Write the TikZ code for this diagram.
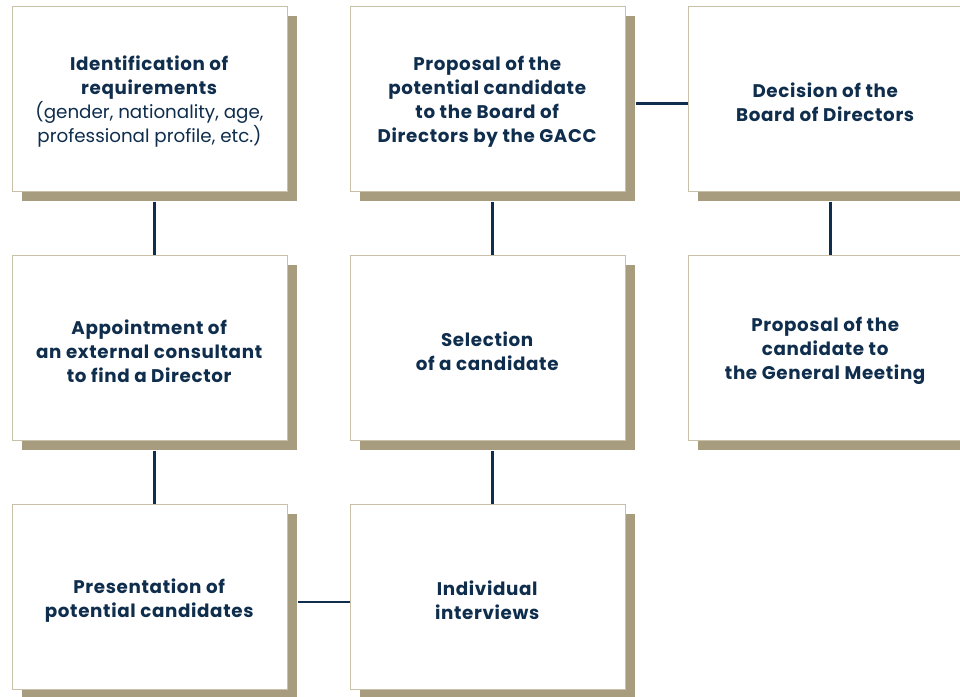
\documentclass[tikz,border=0pt]{standalone}
\usepackage{fontspec}
\setmainfont{Poppins}[BoldFeatures={LetterSpace=3.5}]
\usetikzlibrary{shadows}
\definecolor{navy}{HTML}{0F2D4C}
\definecolor{sand}{HTML}{A89C7F}
\definecolor{edge}{HTML}{C9C0AA}
\begin{document}
\begin{tikzpicture}[x=1pt,y=-1pt,
  card/.style={draw=edge, line width=1pt, fill=white, minimum width=275pt, minimum height=185pt,
    inner sep=0pt,
    drop shadow={shadow xshift=10pt, shadow yshift=-10pt, fill=sand, opacity=1}},
  cardtext/.style={align=center, text=navy, inner sep=0pt, yshift=-3.5pt,
    font=\fontsize{18.3}{24}\selectfont},
  link/.style={draw=navy, line width=2.4pt}]
\useasboundingbox (0,0) rectangle (960,696);
\clip (0,0) rectangle (960,696);
\node[card, label={[cardtext]center:{\textbf{Identification of}\\\textbf{requirements}\\(gender, nationality, age,\\professional profile, etc.)}}] (req) at (149.5,98.5) {};
\node[card, label={[cardtext]center:{\textbf{Proposal of the}\\\textbf{potential candidate}\\\textbf{to the Board of}\\\textbf{Directors by the GACC}}}] (prop) at (487.5,98.5) {};
\node[card, label={[cardtext]center:{\textbf{Decision of the}\\\textbf{Board of Directors}}}] (dec) at (825.5,98.5) {};
\node[card, label={[cardtext]center:{\textbf{Appointment of}\\\textbf{an external consultant}\\\textbf{to find a Director}}}] (app) at (149.5,347.5) {};
\node[card, label={[cardtext]center:{\textbf{Selection}\\\textbf{of a candidate}}}] (sel) at (487.5,347.5) {};
\node[card, label={[cardtext]center:{\textbf{Proposal of the}\\\textbf{candidate to}\\\textbf{the General Meeting}}}] (gm) at (825.5,347.5) {};
\node[card, label={[cardtext]center:{\textbf{Presentation of}\\\textbf{potential candidates}}}] (pres) at (149.5,596.8) {};
\node[card, label={[cardtext]center:{\textbf{Individual}\\\textbf{interviews}}}] (int) at (487.5,596.8) {};
\draw[link] ([xshift=5pt,yshift=-10pt]req.south) -- ([xshift=5pt]app.north);
\draw[link] ([xshift=5pt,yshift=-10pt]app.south) -- ([xshift=5pt]pres.north);
\draw[link] ([xshift=10pt,yshift=-5pt]pres.east) -- ([yshift=-5pt]int.west);
\draw[link] ([xshift=5pt]int.north) -- ([xshift=5pt,yshift=-10pt]sel.south);
\draw[link] ([xshift=5pt]sel.north) -- ([xshift=5pt,yshift=-10pt]prop.south);
\draw[link] ([xshift=10pt,yshift=-5pt]prop.east) -- ([yshift=-5pt]dec.west);
\draw[link] ([xshift=5pt,yshift=-10pt]dec.south) -- ([xshift=5pt]gm.north);
\end{tikzpicture}
\end{document}
